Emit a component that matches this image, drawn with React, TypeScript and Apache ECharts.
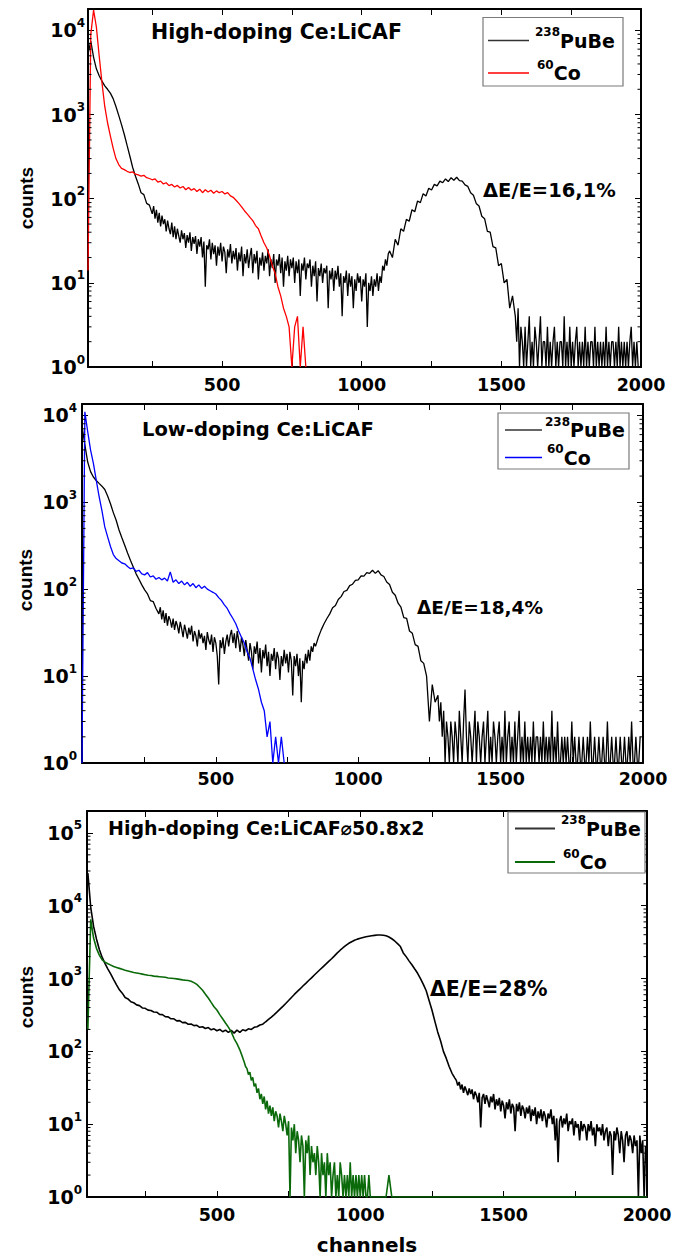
import React, { useEffect, useRef } from 'react';
import * as echarts from 'echarts';

// ---------- data: counts ----------
// Each array is sampled on a regular channel grid: start channel + index * step.
const xTickLabels = [500, 1000, 1500, 2000];
const minorTickValues = [
  2, 3, 4, 5, 6, 7, 8, 9,
  20, 30, 40, 50, 60, 70, 80, 90,
  200, 300, 400, 500, 600, 700, 800, 900,
  2000, 3000, 4000, 5000, 6000, 7000, 8000, 9000,
  20000, 30000, 40000, 50000, 60000, 70000, 80000, 90000,
];

// Panel 1: High-doping Ce:LiCAF
const p1XMin = 20;
const p1YMax = 18000;
// 238PuBe, channels 20..240 step 10
const p1PuBeHead = [
  5200, 7500, 4800, 3500, 2900, 2500, 2200, 2000, 1800, 1550,
  1250, 980, 760, 580, 430, 320, 235, 185, 150, 118,
  112, 88, 84,
];
// 238PuBe, channels 250..1095 step 5
const p1PuBeMid = [
  66, 82, 58, 74, 52, 68, 47, 63, 50, 57,
  41, 55, 44, 38, 52, 35, 47, 33, 44, 36,
  30, 42, 33, 39, 26, 37, 30, 40, 24, 35,
  29, 36, 22, 33, 27, 35, 20, 31, 9, 28,
  25, 33, 19, 30, 22, 28, 16, 27, 21, 30,
  18, 27, 23, 13, 25, 20, 29, 17, 24, 19,
  26, 14, 23, 18, 27, 12, 22, 17, 25, 15,
  21, 26, 13, 22, 17, 24, 11, 20, 16, 23,
  14, 21, 17, 25, 12, 19, 15, 22, 10, 19,
  16, 22, 13, 20, 9, 18, 14, 21, 12, 19,
  15, 20, 10, 18, 13, 19, 7, 17, 14, 20,
  11, 17, 15, 19, 9, 16, 12, 18, 6, 15,
  12, 17, 10, 15, 13, 16, 5, 14, 11, 15,
  8, 14, 11, 16, 9, 13, 4, 12, 10, 14,
  7, 13, 9, 12, 5, 11, 8, 13, 10, 12,
  6, 11, 9, 13, 3, 10, 8, 12, 7, 11,
  9, 13, 8, 12, 10, 16, 14, 19, 16, 22,
];
// 238PuBe, channels 1100..1550 step 10
const p1PuBePeak = [
  24, 20, 33, 28, 44, 41, 57, 54, 74, 70,
  94, 90, 115, 108, 133, 127, 148, 142, 162, 155,
  172, 160, 178, 166, 180, 164, 162, 146, 140, 118,
  110, 88, 82, 62, 58, 41, 40, 27, 26, 16,
  17, 10, 11, 5, 7, 4,
];
// 238PuBe, channels 1555..1990 step 5
const p1PuBeTail = [
  2, 5, 1, 3, 2, 1, 3, 1, 2, 4,
  1, 2, 1, 3, 2, 1, 2, 4, 1, 2,
  2, 1, 3, 1, 2, 1, 2, 3, 1, 2,
  1, 2, 2, 1, 4, 1, 2, 1, 3, 1,
  2, 1, 2, 3, 1, 2, 1, 2, 1, 3,
  1, 2, 1, 2, 2, 1, 3, 1, 2, 1,
  2, 1, 2, 1, 3, 1, 2, 1, 2, 2,
  1, 2, 1, 3, 1, 2, 1, 2, 1, 2,
  1, 2, 3, 1, 2, 1, 2, 1,
];
// 60Co, channels 20..800 step 10
const p1Co = [
  14, 9000, 17500, 11000, 5000, 2400, 1250, 800, 560, 400,
  300, 255, 230, 222, 212, 205, 208, 196, 192, 186,
  190, 178, 174, 168, 172, 158, 162, 150, 155, 143,
  148, 138, 144, 134, 140, 128, 136, 126, 132, 122,
  130, 118, 128, 120, 126, 116, 124, 118, 122, 114,
  118, 108, 104, 96, 88, 80, 72, 66, 60, 55,
  48, 44, 36, 30, 26, 21, 16, 13, 9, 7,
  5, 4, 3, 1, 3, 4, 1, 3, 1,
];

// Panel 2: Low-doping Ce:LiCAF
const p2XMin = 30;
const p2YMax = 13500;
// 238PuBe, channels 30..290 step 10
const p2PuBeHead = [
  7500, 4600, 2900, 2250, 1950, 1780, 1650, 1530, 1400, 1180,
  960, 760, 620, 480, 390, 320, 260, 215, 180, 150,
  130, 112, 98, 88, 74, 72, 60,
];
// 238PuBe, channels 300..845 step 5
const p2PuBeMid = [
  52, 62, 45, 57, 41, 53, 38, 49, 44, 36,
  46, 34, 43, 38, 31, 42, 35, 28, 39, 33,
  27, 36, 30, 38, 25, 33, 29, 22, 34, 27,
  31, 24, 29, 20, 32, 26, 23, 30, 19, 28,
  24, 17, 8, 26, 21, 28, 18, 25, 30, 22,
  29, 34, 24, 31, 21, 33, 26, 19, 28, 23,
  17, 26, 20, 15, 24, 19, 12, 22, 18, 25,
  14, 21, 11, 20, 16, 23, 13, 19, 10, 18,
  15, 21, 12, 19, 16, 9, 17, 13, 20, 14,
  18, 11, 19, 15, 6, 17, 13, 18, 10, 16,
  5, 15, 12, 18, 14, 20, 15, 22, 19, 24,
];
// 238PuBe, channels 850..1280 step 10
const p2PuBePeak = [
  22, 28, 34, 40, 46, 52, 61, 65, 76, 82,
  94, 97, 110, 114, 126, 128, 142, 141, 155, 152,
  165, 152, 163, 146, 140, 121, 113, 92, 85, 69,
  62, 47, 46, 33, 31, 23, 22, 15, 14, 10,
  3, 8, 5, 6,
];
// 238PuBe, channels 1285..1990 step 5
const p2PuBeTail = [
  3, 5, 2, 4, 1, 3, 2, 1, 3, 2,
  1, 3, 2, 1, 4, 2, 1, 3, 7, 2,
  1, 3, 2, 1, 2, 4, 1, 3, 2, 1,
  2, 3, 1, 2, 4, 1, 2, 1, 3, 2,
  1, 2, 3, 1, 2, 1, 4, 1, 2, 3,
  1, 2, 1, 3, 1, 2, 4, 1, 2, 1,
  3, 1, 2, 1, 2, 1, 3, 1, 2, 2,
  1, 2, 1, 3, 1, 2, 1, 2, 1, 4,
  1, 2, 1, 3, 1, 1, 2, 1, 2, 1,
  2, 1, 1, 3, 1, 2, 1, 1, 2, 1,
  1, 2, 1, 1, 2, 1, 3, 1, 1, 2,
  1, 1, 2, 1, 1, 2, 1, 1, 3, 1,
  1, 2, 1, 1, 2, 1, 1, 2, 1, 1,
  2, 1, 1, 2, 1, 3, 1, 1, 2, 1,
  1, 2,
];
// 60Co, channels 30..740 step 10
const p2Co = [
  1, 11000, 6500, 4000, 2800, 1800, 1170, 800, 520, 400,
  310, 250, 225, 212, 200, 196, 182, 172, 176, 160,
  165, 150, 146, 155, 138, 142, 130, 136, 128, 134,
  124, 158, 120, 128, 116, 124, 112, 120, 108, 116,
  104, 112, 102, 108, 100, 96, 92, 88, 80, 74,
  66, 60, 52, 46, 40, 33, 28, 24, 19, 16,
  12, 9, 7, 5, 4, 2, 3, 1, 2, 1,
  2, 1,
];

// Panel 3: High-doping Ce:LiCAF ⌀50.8x2
const p3XMin = 47;
const p3YMax = 200000;
// 238PuBe, channels 50..1330 step 10
const p3PuBeHead = [
  28000, 9500, 5200, 3500, 2500, 1950, 1600, 1350, 1150, 970,
  820, 700, 630, 550, 525, 480, 465, 435, 425, 395,
  390, 368, 365, 348, 345, 322, 320, 300, 298, 280,
  280, 262, 264, 248, 250, 236, 238, 226, 228, 214,
  218, 206, 212, 198, 204, 192, 200, 186, 196, 182,
  194, 178, 196, 182, 198, 192, 204, 200, 214, 218,
  230, 236, 255, 275, 296, 320, 348, 380, 415, 455,
  500, 550, 605, 660, 720, 790, 860, 940, 1020, 1120,
  1220, 1330, 1450, 1580, 1720, 1870, 2050, 2250, 2450, 2650,
  2850, 3050, 3200, 3350, 3480, 3580, 3670, 3750, 3820, 3880,
  3920, 3960, 3970, 3940, 3860, 3720, 3520, 3280, 3020, 2750,
  2250, 2000, 1750, 1550, 1350, 1180, 1000, 830, 680, 500,
  370, 260, 185, 140, 100, 80, 62, 50, 43,
];
// 238PuBe, channels 1335..2000 step 5
const p3PuBeTail = [
  40, 34, 38, 30, 35, 27, 33, 29, 25, 31,
  26, 30, 22, 28, 25, 20, 27, 9, 23, 26,
  19, 25, 21, 17, 24, 20, 26, 16, 22, 18,
  23, 15, 21, 18, 12, 20, 16, 22, 14, 19,
  17, 8, 19, 15, 20, 13, 18, 16, 12, 17,
  14, 18, 11, 16, 13, 17, 10, 15, 12, 16,
  11, 15, 13, 9, 14, 12, 16, 10, 13, 6,
  12, 3, 11, 13, 9, 12, 10, 14, 8, 11,
  10, 12, 7, 11, 9, 10, 6, 11, 8, 10,
  9, 6, 10, 8, 11, 7, 9, 5, 10, 8,
  9, 7, 10, 6, 8, 9, 5, 8, 7, 2,
  8, 6, 9, 7, 4, 8, 6, 3, 7, 8,
  5, 7, 6, 4, 7, 5, 6, 1, 7, 4,
  6, 1, 5, 4,
];
// 60Co, channels 50..590 step 10
const p3CoHead = [
  200, 6500, 3600, 2600, 2100, 1800, 1680, 1600, 1530, 1460,
  1420, 1380, 1340, 1300, 1270, 1240, 1210, 1190, 1170, 1150,
  1130, 1110, 1100, 1080, 1070, 1060, 1050, 1040, 1020, 1010,
  1000, 990, 975, 960, 950, 940, 920, 880, 830, 760,
  690, 610, 540, 470, 410, 370, 320, 280, 245, 215,
  185, 150, 128, 105, 82,
];
// 60Co, channels 595..1040 step 5
const p3CoMid = [
  72, 62, 58, 48, 52, 40, 44, 33, 36, 27,
  31, 22, 26, 19, 24, 16, 21, 14, 18, 13,
  17, 11, 15, 13, 9, 14, 11, 8, 13, 10,
  7, 11, 1, 9, 6, 10, 4, 8, 6, 3,
  7, 5, 1, 6, 4, 7, 2, 5, 3, 4,
  2, 5, 3, 1, 4, 2, 3, 1, 4, 2,
  3, 1, 2, 3, 1, 2, 1, 3, 2, 1,
  2, 1, 2, 1, 3, 1, 2, 1, 2, 1,
  2, 1, 2, 1, 2, 1, 1, 2, 1, 1,
];
// 60Co, channels 1050..2000 step 10
const p3CoTail = [
  1, 1, 1, 1, 1, 2, 1, 1, 1, 1,
  1, 1, 1, 1, 1, 1, 1, 1, 1, 1,
  1, 1, 1, 1, 1, 1, 1, 1, 1, 1,
  1, 1, 1, 1, 1, 1, 1, 1, 1, 1,
  1, 1, 1, 1, 1, 1, 1, 1, 1, 1,
  1, 1, 1, 1, 1, 1, 1, 1, 1, 1,
  1, 1, 1, 1, 1, 1, 1, 1, 1, 1,
  1, 1, 1, 1, 1, 1, 1, 1, 1, 1,
  1, 1, 1, 1, 1, 1, 1, 1, 1, 1,
  1, 1, 1, 1, 1, 1,
];

// ---------- chart ----------
const FONT = 'DejaVu Sans';

type Seg = [number, number, number[]]; // start channel, step, counts

function pairs(segs: Seg[]) {
  const out: number[][] = [];
  segs.forEach(([start, step, values]) => {
    values.forEach((v, i) => out.push([start + i * step, v]));
  });
  return out;
}

type Panel = {
  grid: { left: number; top: number; width: number; height: number };
  xMin: number;
  yMax: number;
  black: Seg[];
  co: Seg[];
  coColor: string;
  lineWidth: number;
  yLabelMargin: number;
  xLabelMargin: number;
  title: { text: string; x: number; y: number; size: number };
  res: { text: string; x: number; y: number; size: number };
  counts: { x: number; y: number };
  legend: { x: number; y: number; w: number; h: number; lx1: number; lx2: number; tx: number; y1: number; y2: number; lw: number };
  xName?: string;
};

const panels: Panel[] = [
  {
    grid: { left: 88, top: 9, width: 553, height: 358 },
    xMin: p1XMin, yMax: p1YMax,
    black: [[20, 10, p1PuBeHead], [250, 5, p1PuBeMid], [1100, 10, p1PuBePeak], [1555, 5, p1PuBeTail]],
    co: [[20, 10, p1Co]], coColor: '#ff0000',
    lineWidth: 1.3, yLabelMargin: 3, xLabelMargin: 9,
    title: { text: 'High-doping Ce:LiCAF', x: 151, y: 32, size: 20.5 },
    res: { text: 'ΔE/E=16,1%', x: 483, y: 190, size: 19.5 },
    counts: { x: 26, y: 198 },
    legend: { x: 483, y: 17.5, w: 140, h: 68.5, lx1: 488, lx2: 529, tx: 535, y1: 40.5, y2: 73, lw: 1.5 },
  },
  {
    grid: { left: 82, top: 404, width: 561, height: 359 },
    xMin: p2XMin, yMax: p2YMax,
    black: [[30, 10, p2PuBeHead], [300, 5, p2PuBeMid], [850, 10, p2PuBePeak], [1285, 5, p2PuBeTail]],
    co: [[30, 10, p2Co]], coColor: '#0000ff',
    lineWidth: 1.3, yLabelMargin: 5, xLabelMargin: 7,
    title: { text: 'Low-doping Ce:LiCAF', x: 142, y: 429, size: 19.5 },
    res: { text: 'ΔE/E=18,4%', x: 417, y: 607, size: 18.5 },
    counts: { x: 25, y: 580 },
    legend: { x: 498, y: 413, w: 131, h: 56, lx1: 505, lx2: 542, tx: 545, y1: 430, y2: 457.5, lw: 1.5 },
  },
  {
    grid: { left: 87, top: 811, width: 560, height: 386 },
    xMin: p3XMin, yMax: p3YMax,
    black: [[50, 10, p3PuBeHead], [1335, 5, p3PuBeTail]],
    co: [[50, 10, p3CoHead], [595, 5, p3CoMid], [1050, 10, p3CoTail]], coColor: '#0a6a0a',
    lineWidth: 1.6, yLabelMargin: 5, xLabelMargin: 9,
    title: { text: 'High-doping Ce:LiCAF⌀50.8x2', x: 108, y: 828, size: 19 },
    res: { text: 'ΔE/E=28%', x: 430, y: 989, size: 20.5 },
    counts: { x: 26, y: 997 },
    legend: { x: 508, y: 812, w: 137, h: 61, lx1: 515, lx2: 555, tx: 561, y1: 828.5, y2: 862, lw: 2 },
    xName: 'channels',
  },
];

function yLabel(v: number) {
  const e = Math.log10(v);
  const r = Math.round(e);
  if (Math.abs(e - r) > 1e-6) return '';
  return '{b|10}{s|' + r + '}';
}

function buildOption() {
  const grid: any[] = [];
  const xAxis: any[] = [];
  const yAxis: any[] = [];
  const series: any[] = [];
  const graphic: any[] = [];

  const axisLine = { show: true, onZero: false, lineStyle: { color: '#000', width: 2 } };

  panels.forEach((p, i) => {
    grid.push({ ...p.grid, containLabel: false, outerBoundsMode: 'none' });
    const xi = i * 2;
    const yi = i * 2;
    const xCommon = {
      type: 'value', gridIndex: i, min: p.xMin, max: 2000, splitNumber: 4,
      axisLine,
      axisTick: { show: true, inside: true, length: 6, lineStyle: { color: '#000', width: 1 } },
      minorTick: { show: true, splitNumber: 2, length: 6, lineStyle: { color: '#000', width: 1 } },
      splitLine: { show: false },
      minorSplitLine: { show: false },
    };
    xAxis.push({
      ...xCommon,
      position: 'bottom',
      name: p.xName || '',
      nameLocation: 'middle',
      nameGap: 38,
      nameTextStyle: { fontFamily: FONT, fontWeight: 'bold', fontSize: 20, color: '#000' },
      axisLabel: {
        show: true, margin: p.xLabelMargin, color: '#000',
        fontFamily: FONT, fontWeight: 'bold', fontSize: 17.5,
        formatter: (v: number) => (xTickLabels.includes(v) ? String(v) : ''),
      },
    });
    xAxis.push({ ...xCommon, position: 'top', axisLabel: { show: false } });

    const yCommon = {
      type: 'log', logBase: 10, gridIndex: i, min: 1, max: p.yMax,
      axisLine,
      axisTick: { show: true, inside: true, length: 6, lineStyle: { color: '#000', width: 1 } },
      splitLine: { show: false },
    };
    yAxis.push({
      ...yCommon,
      position: 'left',
      axisLabel: {
        show: true, margin: p.yLabelMargin, color: '#000',
        formatter: yLabel,
        rich: {
          b: { fontFamily: FONT, fontWeight: 'bold', fontSize: 19, color: '#000', padding: [4, 0, 4, 0] },
          s: { fontFamily: FONT, fontWeight: 'bold', fontSize: 12, color: '#000', padding: [0, 0, 15, 0] },
        },
      },
    });
    yAxis.push({ ...yCommon, position: 'right', axisLabel: { show: false } });

    series.push({
      type: 'line', name: '238PuBe', xAxisIndex: xi, yAxisIndex: yi,
      data: pairs(p.black),
      showSymbol: false, symbol: 'none', silent: true,
      lineStyle: { color: '#000', width: p.lineWidth }, itemStyle: { color: '#000' },
      z: 3,
    });
    series.push({
      type: 'line', name: '60Co', xAxisIndex: xi, yAxisIndex: yi,
      data: pairs(p.co),
      showSymbol: false, symbol: 'none', silent: true,
      lineStyle: { color: p.coColor, width: p.lineWidth }, itemStyle: { color: p.coColor },
      z: 4,
    });
    // log minor ticks on left and right frame, placed through the axis scales
    const xMin = p.xMin;
    series.push({
      type: 'custom', xAxisIndex: xi, yAxisIndex: yi, silent: true, z: 5,
      data: minorTickValues.filter((v) => v < p.yMax).map((v) => [xMin, v]),
      renderItem: (params: any, api: any) => {
        const v = api.value(1);
        const a = api.coord([xMin, v]);
        const b = api.coord([2000, v]);
        return {
          type: 'group',
          children: [
            { type: 'line', shape: { x1: a[0], y1: a[1], x2: a[0] + 3.5, y2: a[1] }, style: { stroke: '#000', lineWidth: 1 } },
            { type: 'line', shape: { x1: b[0] - 3.5, y1: b[1], x2: b[0], y2: b[1] }, style: { stroke: '#000', lineWidth: 1 } },
          ],
        };
      },
    });

    // texts
    graphic.push({
      type: 'text', x: p.title.x, y: p.title.y, z: 10,
      style: { text: p.title.text, fill: '#000', fontFamily: FONT, fontWeight: 'bold', fontSize: p.title.size, align: 'left', verticalAlign: 'middle' },
    });
    graphic.push({
      type: 'text', x: p.res.x, y: p.res.y, z: 10,
      style: { text: p.res.text, fill: '#000', fontFamily: FONT, fontWeight: 'bold', fontSize: p.res.size, align: 'left', verticalAlign: 'middle' },
    });
    graphic.push({
      type: 'text', x: p.counts.x, y: p.counts.y, rotation: Math.PI / 2, z: 10,
      style: { text: 'counts', fill: '#000', fontFamily: 'Liberation Sans', fontWeight: 'bold', fontSize: 19, align: 'center', verticalAlign: 'middle' },
    });
    // legend box
    const L = p.legend;
    const rich = {
      b: { fontFamily: FONT, fontWeight: 'bold', fontSize: 19, fill: '#000', color: '#000', padding: [5, 0, 5, 0] },
      s: { fontFamily: FONT, fontWeight: 'bold', fontSize: 12, fill: '#000', color: '#000', padding: [0, 0, 17, 0] },
    };
    graphic.push({
      type: 'rect', z: 9, shape: { x: L.x, y: L.y, width: L.w, height: L.h },
      style: { fill: '#fff', stroke: '#7a7a7a', lineWidth: 1.2 },
    });
    graphic.push({
      type: 'line', z: 10, shape: { x1: L.lx1, y1: L.y1, x2: L.lx2, y2: L.y1 },
      style: { stroke: '#333', lineWidth: L.lw },
    });
    graphic.push({
      type: 'line', z: 10, shape: { x1: L.lx1, y1: L.y2, x2: L.lx2, y2: L.y2 },
      style: { stroke: p.coColor, lineWidth: L.lw },
    });
    graphic.push({
      type: 'text', x: L.tx, y: L.y1, z: 10,
      style: { text: '{s|238}{b|PuBe}', rich, align: 'left', verticalAlign: 'middle', fill: '#000' },
    });
    graphic.push({
      type: 'text', x: L.tx + 2, y: L.y2, z: 10,
      style: { text: '{s|60}{b|Co}', rich, align: 'left', verticalAlign: 'middle', fill: '#000' },
    });
  });

  return {
    animation: false,
    backgroundColor: '#fff',
    textStyle: { fontFamily: FONT },
    grid, xAxis, yAxis, series, graphic,
  };
}

export default function App() {
  const ref = useRef<HTMLDivElement>(null);
  useEffect(() => {
    document.body.style.margin = '0';
    if (!ref.current) return;
    const chart = echarts.init(ref.current, null, { renderer: 'svg' });
    chart.setOption(buildOption() as any);
    return () => chart.dispose();
  }, []);
  return <div ref={ref} style={{ width: 685, height: 1260, background: '#fff' }} />;
}
